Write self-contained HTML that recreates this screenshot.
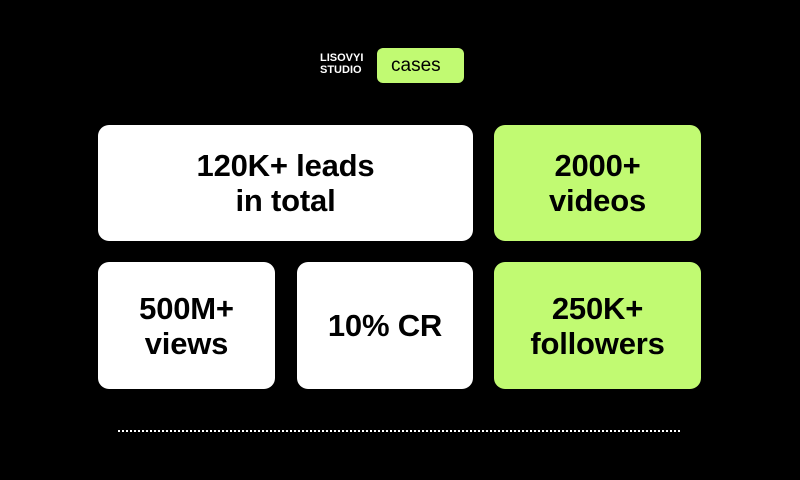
<!DOCTYPE html>
<html><head><style>
body{margin:0;width:800px;height:480px;background:#000;position:relative;overflow:hidden;font-family:"Liberation Sans",sans-serif}
.b{position:absolute;border-radius:11px;display:flex;align-items:center;justify-content:center;text-align:center;font-weight:bold;font-size:31px;line-height:35px;letter-spacing:-0.2px;color:#000}
.w{background:#fff}.g{background:#c1fa72}
</style></head><body>
<div style="position:absolute;left:320px;top:52px;color:#fff;font-weight:bold;font-size:11px;line-height:12px">LISOVYI<br>STUDIO</div>
<div style="position:absolute;left:377px;top:48px;width:87px;height:35px;background:#c1fa72;border-radius:6px;font-size:19px;line-height:35px;text-indent:14px;color:#000">cases</div>
<div class="b w" style="left:98px;top:125px;width:375px;height:116px">120K+ leads<br>in total</div>
<div class="b g" style="left:494px;top:125px;width:207px;height:116px">2000+<br>videos</div>
<div class="b w" style="left:98px;top:262px;width:177px;height:127px">500M+<br>views</div>
<div class="b w" style="left:297px;top:262px;width:176px;height:127px">10% CR</div>
<div class="b g" style="left:494px;top:262px;width:207px;height:127px">250K+<br>followers</div>
<div style="position:absolute;left:118px;top:430px;width:562px;height:2px;background:repeating-linear-gradient(90deg,#fff 0 2px,transparent 2px 4px)"></div>
</body></html>
